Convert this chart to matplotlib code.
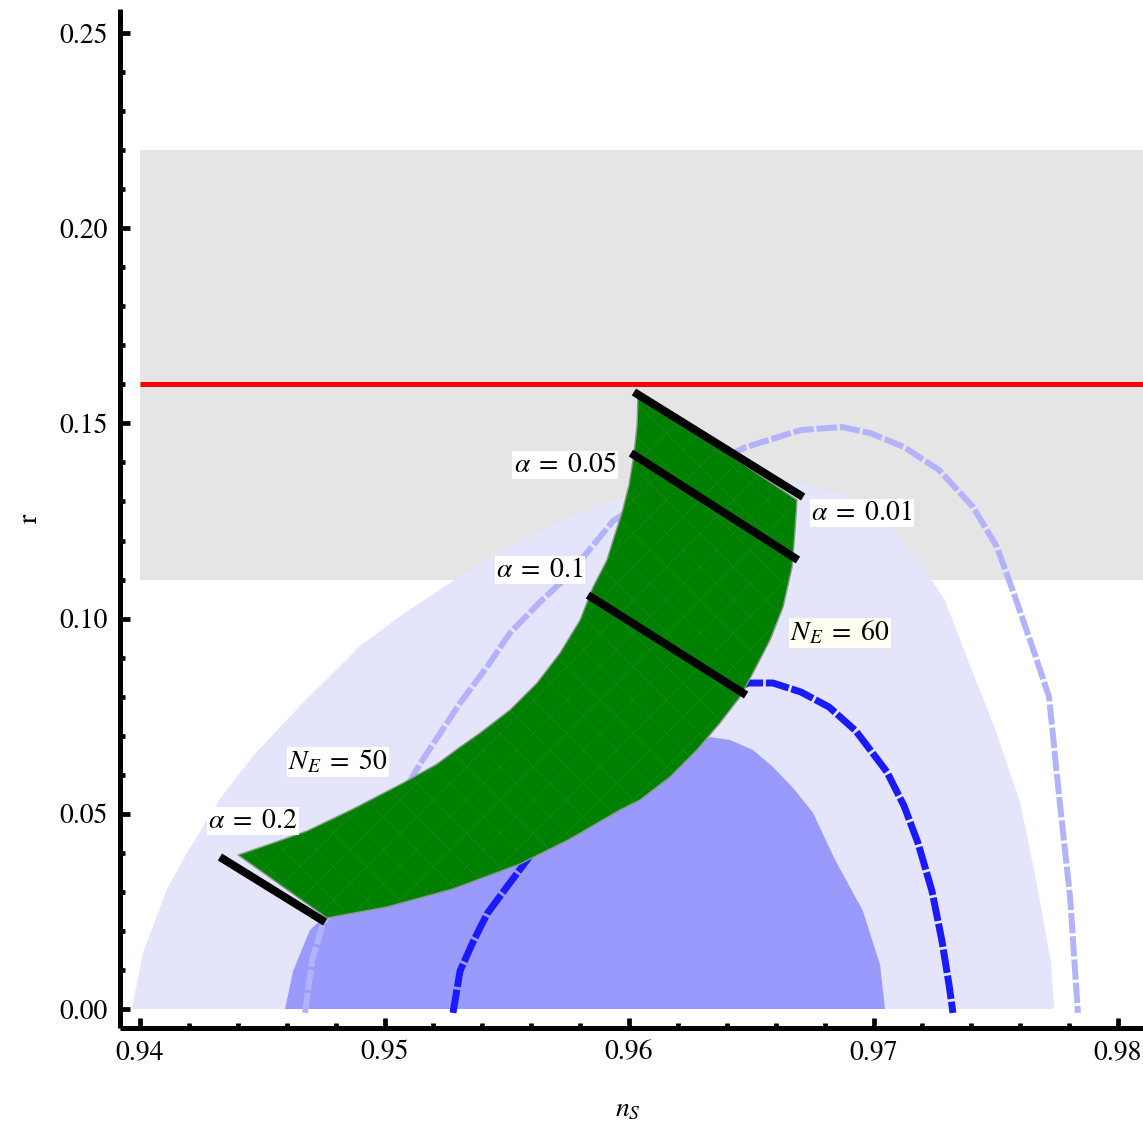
import matplotlib.pyplot as plt
from matplotlib.patches import Polygon
from matplotlib.ticker import MultipleLocator, FormatStrFormatter

plt.rcParams['font.family'] = ['STIXGeneral', 'DejaVu Serif']
plt.rcParams['mathtext.fontset'] = 'stix'
plt.rcParams['hatch.linewidth'] = 0.5

# observational bands (ns, r)
ns_95 = [0.93967, 0.94012, 0.94110, 0.94192, 0.94327, 0.94462, 0.94654, 0.94900,
         0.95076, 0.95280, 0.95485, 0.95690, 0.95894, 0.96086, 0.96290, 0.96536,
         0.96703, 0.96888, 0.97055, 0.97182, 0.97292, 0.97378, 0.97501, 0.97599,
         0.97665, 0.97726, 0.97738]
r_95 = [0.0, 0.01434, 0.03074, 0.03996, 0.05379, 0.06481, 0.07761, 0.09299,
        0.10118, 0.10963, 0.11783, 0.12423, 0.12961, 0.13294, 0.13448, 0.13499,
        0.13473, 0.13166, 0.12449, 0.11501, 0.10476, 0.09068, 0.07121, 0.05302,
        0.03304, 0.01204, 0.0]

ns_68 = [0.94593, 0.94626, 0.94695, 0.94748, 0.95063, 0.95472, 0.95881, 0.96209,
         0.96331, 0.96413, 0.96507, 0.96589, 0.96675, 0.96753, 0.96843, 0.96957,
         0.97027, 0.97047]
r_68 = [0.0, 0.00973, 0.02023, 0.02331, 0.03176, 0.04073, 0.05353, 0.06506,
        0.06967, 0.06890, 0.06634, 0.06199, 0.05635, 0.05020, 0.03817, 0.02510,
        0.01127, 0.0]

# dashed contours
ns_light = [0.94675, 0.94704, 0.94748, 0.94798, 0.94941, 0.95145, 0.95309, 0.95419,
            0.95513, 0.95636, 0.95746, 0.95935, 0.96086, 0.96290, 0.96479, 0.96703,
            0.96871, 0.96986, 0.97125, 0.97268, 0.97407, 0.97505, 0.97579, 0.97661,
            0.97718, 0.97759, 0.97804, 0.97836]
r_light = [-0.0010, 0.01255, 0.02177, 0.02664, 0.04073, 0.06276, 0.07838, 0.08760,
           0.09631, 0.10425, 0.11066, 0.12500, 0.13115, 0.13858, 0.14395, 0.14831,
           0.14908, 0.14754, 0.14395, 0.13806, 0.12859, 0.11834, 0.10553, 0.09068,
           0.07992, 0.05456, 0.02869, -0.0010]

ns_dark = [0.95280, 0.95309, 0.95362, 0.95419, 0.95485, 0.95595, 0.95881, 0.96209,
           0.96372, 0.96487, 0.96589, 0.96703, 0.96818, 0.96928, 0.97055, 0.97125,
           0.97182, 0.97239, 0.97280, 0.97309, 0.97325]
r_dark = [-0.0010, 0.00974, 0.01717, 0.02434, 0.02997, 0.03919, 0.05610, 0.07147,
          0.07992, 0.08350, 0.08350, 0.08120, 0.07736, 0.07121, 0.06071, 0.05200,
          0.04252, 0.03023, 0.01742, 0.00615, -0.0010]

# model predictions, alpha from 0.2 to 0.01
ns_N50 = [0.94401, 0.94532, 0.94683, 0.94871, 0.95076, 0.95215, 0.95309, 0.95391,
          0.95513, 0.95624, 0.95718, 0.95800, 0.95853, 0.95910, 0.95935, 0.95971,
          0.96000, 0.96020, 0.96033, 0.96037]
r_N50 = [0.03945, 0.04226, 0.04559, 0.05123, 0.05789, 0.06276, 0.06711, 0.07070,
         0.07659, 0.08350, 0.09119, 0.09964, 0.10809, 0.11501, 0.12013, 0.12705,
         0.13422, 0.14191, 0.14959, 0.15753]
ns_N60 = [0.94765, 0.95010, 0.95280, 0.95554, 0.95759, 0.95963, 0.96045, 0.96168,
          0.96278, 0.96372, 0.96454, 0.96507, 0.96577, 0.96630, 0.96667, 0.96679, 0.96687]
r_N60 = [0.02331, 0.02613, 0.03074, 0.03714, 0.04355, 0.05097, 0.05353, 0.05943,
         0.06634, 0.07326, 0.07992, 0.08607, 0.09452, 0.10297, 0.11322, 0.12269, 0.13038]

# constant alpha segments: (ns at N=50, r at N=50, ns at N=60, r at N=60)
alpha_ns0 = [0.94327, 0.95832, 0.96008, 0.96020]
alpha_r0 = [0.03893, 0.10605, 0.14242, 0.15804]
alpha_ns1 = [0.94757, 0.96479, 0.96691, 0.96712]
alpha_r1 = [0.02228, 0.08043, 0.11501, 0.13115]

band_r = (0.11, 0.22)
r_bound = 0.16

fig = plt.figure(figsize=(11.43, 11.25), dpi=100)
ax = fig.add_axes([120 / 1143, 97 / 1125, 1023 / 1143, 1019 / 1125])

ax.axhspan(band_r[0], band_r[1], xmin=(0.94 - 0.939182) / (0.981022 - 0.939182),
           color='#e5e5e5', lw=0, zorder=1)
ax.fill(ns_95, r_95, color='#e4e4fb', lw=0, zorder=2)
ax.fill(ns_68, r_68, color='#9a9afd', lw=0, zorder=3)
ax.plot(ns_light, r_light, color='#b3b3fb', lw=4.3, dashes=(3.4, 0.5),
        solid_capstyle='butt', dash_capstyle='butt', zorder=4)
ax.plot(ns_dark, r_dark, color='#1a1aff', lw=5, dashes=(3.4, 0.4),
        solid_capstyle='butt', dash_capstyle='butt', zorder=5)
ax.plot([0.94, 0.981022], [r_bound, r_bound], color='#ff0000', lw=3.6,
        solid_capstyle='butt', zorder=5)

pts = list(zip(ns_N50, r_N50)) + list(zip(ns_N60, r_N60))[::-1]
ax.add_patch(Polygon(pts, closed=True, facecolor='#008000', edgecolor='none', zorder=6))
ax.add_patch(Polygon(pts, closed=True, facecolor='none', edgecolor='#178917',
                     hatch='x', lw=0, zorder=6.5))
ax.add_patch(Polygon(pts, closed=True, facecolor='none', edgecolor='#8a9a8a',
                     lw=1.0, zorder=7))

for a0, b0, a1, b1 in zip(alpha_ns0, alpha_r0, alpha_ns1, alpha_r1):
    ax.plot([a0, a1], [b0, b1], color='black', lw=5.8, solid_capstyle='butt', zorder=8)

box = dict(facecolor='white', edgecolor='none', pad=1.0)
fs = 20
ax.text(0.95738, 0.13934, r'$\alpha\;=\;0.05$', fontsize=fs, ha='center', va='center', bbox=box, zorder=9)
ax.text(0.96953, 0.12705, r'$\alpha\;=\;0.01$', fontsize=fs, ha='center', va='center', bbox=box, zorder=9)
ax.text(0.95636, 0.11245, r'$\alpha\;=\;0.1$', fontsize=fs, ha='center', va='center', bbox=box, zorder=9)
ax.text(0.94462, 0.04816, r'$\alpha\;=\;0.2$', fontsize=fs, ha='center', va='center', bbox=box, zorder=9)
ax.text(0.96863, 0.09631, r'$N_E\;=\;60$', fontsize=fs, ha='center', va='center',
        bbox=dict(facecolor='#fffff2', edgecolor='none', pad=1.0), zorder=9)
ax.text(0.94810, 0.06327, r'$N_E\;=\;50$', fontsize=fs, ha='center', va='center', bbox=box, zorder=9)

ax.set_xlim(0.939182, 0.981022)
ax.set_ylim(-0.004867, 0.25615)
for s in ['top', 'right']:
    ax.spines[s].set_visible(False)
for s in ['left', 'bottom']:
    ax.spines[s].set_linewidth(3.6)
    ax.spines[s].set_capstyle('butt')

ax.xaxis.set_major_locator(MultipleLocator(0.01))
ax.xaxis.set_minor_locator(MultipleLocator(0.002))
ax.yaxis.set_major_locator(MultipleLocator(0.05))
ax.yaxis.set_minor_locator(MultipleLocator(0.01))
ax.xaxis.set_major_formatter(FormatStrFormatter('%.2f'))
ax.yaxis.set_major_formatter(FormatStrFormatter('%.2f'))
ax.tick_params(which='major', direction='in', length=7, width=3.4, labelsize=fs, pad=9)
ax.tick_params(which='minor', direction='in', length=3.6, width=3.4)
ax.set_facecolor('none')

fig.text(628 / 1143, 1 - 1110 / 1125, r'$n_S$', fontsize=20, ha='center', va='center')
fig.text(30 / 1143, 1 - 518 / 1125, 'r', fontsize=20, ha='center', va='center', rotation=90)

fig.savefig('out.png', dpi=100)
